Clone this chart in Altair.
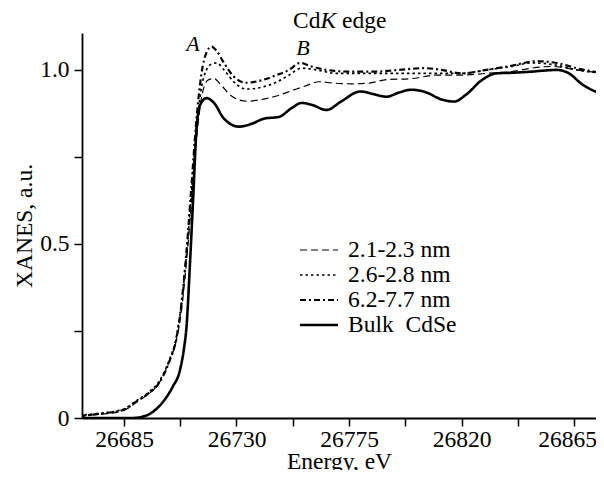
import altair as alt
import pandas as pd

FONT = "Liberation Serif"

series_names = ["2.1-2.3 nm", "2.6-2.8 nm", "6.2-7.7 nm", "Bulk\u00a0 CdSe"]

# 2.1-2.3 nm (dashed)
E_dash = [26667, 26675, 26685, 26690, 26695, 26699, 26703, 26706, 26708, 26710, 26712, 26714, 26716,
          26718.5, 26721, 26724, 26728, 26734, 26740, 26746, 26752, 26758, 26763, 26769, 26776, 26783,
          26790, 26800, 26810, 26820, 26830, 26840, 26848, 26856, 26866, 26877]
y_dash = [0.005, 0.01, 0.022, 0.045, 0.07, 0.10, 0.16, 0.225, 0.31, 0.45, 0.62, 0.80, 0.92,
          0.97, 0.975, 0.955, 0.925, 0.91, 0.915, 0.925, 0.94, 0.955, 0.966, 0.962, 0.96, 0.962,
          0.972, 0.975, 0.985, 0.985, 0.99, 0.995, 1.005, 1.01, 1.0, 0.99]

# 2.6-2.8 nm (dotted)
E_dot = [26667, 26675, 26685, 26690, 26695, 26699, 26703, 26706, 26708, 26710, 26712, 26714, 26716,
         26718, 26720, 26722, 26725, 26729, 26734, 26740, 26746, 26751, 26756, 26762, 26770, 26780,
         26790, 26800, 26810, 26820, 26830, 26840, 26848, 26857, 26866, 26877]
y_dot = [0.008, 0.013, 0.026, 0.05, 0.075, 0.105, 0.165, 0.235, 0.33, 0.47, 0.65, 0.83, 0.95,
         1.0, 1.017, 1.02, 1.0, 0.965, 0.945, 0.95, 0.965, 0.985, 1.005, 1.0, 0.99, 0.99,
         0.99, 0.99, 0.99, 0.99, 1.0, 1.01, 1.02, 1.015, 1.0, 0.99]

# 6.2-7.7 nm (dash-dot)
E_dd = [26667, 26675, 26685, 26690, 26695, 26699, 26703, 26706, 26708, 26710, 26712, 26714, 26716,
        26718, 26720, 26722, 26725, 26729, 26734, 26740, 26746, 26751, 26755.5, 26760, 26766, 26775,
        26785, 26795, 26805, 26812, 26820, 26830, 26840, 26850, 26858, 26866, 26877]
y_dd = [0.006, 0.012, 0.024, 0.048, 0.072, 0.10, 0.16, 0.23, 0.33, 0.48, 0.67, 0.86, 0.99,
        1.05, 1.067, 1.055, 1.02, 0.98, 0.963, 0.97, 0.985, 1.0, 1.02, 1.01, 1.0, 0.995,
        0.995, 1.0, 1.005, 1.0, 0.99, 1.0, 1.012, 1.025, 1.02, 1.005, 0.99]

# Bulk CdSe (solid)
E_bulk = [26667, 26680, 26688, 26692, 26696, 26699.5, 26702, 26704.5, 26707.4, 26709, 26710, 26711.4,
          26712.7, 26714, 26715.5, 26718, 26721, 26725, 26731, 26736, 26741, 26747, 26752, 26756,
          26760, 26766, 26772, 26779.5, 26785, 26790, 26795, 26800, 26806, 26812, 26817, 26822,
          26828, 26834, 26841, 26848, 26853, 26858, 26863, 26868, 26877]
y_bulk = [0.0, 0.0, 0.0, 0.003, 0.015, 0.037, 0.06, 0.09, 0.138, 0.2, 0.262, 0.445,
          0.636, 0.83, 0.9, 0.919, 0.905, 0.86, 0.837, 0.845, 0.86, 0.865, 0.89, 0.905,
          0.9, 0.885, 0.91, 0.938, 0.93, 0.923, 0.935, 0.943, 0.935, 0.915, 0.909, 0.93,
          0.97, 0.99, 0.992, 0.995, 0.998, 1.0, 0.99, 0.96, 0.928]

x_ticks = [26685, 26707.5, 26730, 26752.5, 26775, 26797.5, 26820, 26842.5, 26865]
y_ticks = [0, 0.25, 0.5, 0.75, 1.0]

ann_labels = ["A", "B"]
ann_E = [26712.6, 26756.6]
ann_y = [1.055, 1.042]

title_parts = ["Cd", "K", "edge"]

rows = []
for name, E, Y in zip(series_names, [E_dash, E_dot, E_dd, E_bulk], [y_dash, y_dot, y_dd, y_bulk]):
    for e, v in zip(E, Y):
        rows.append({"series": name, "E": e, "v": v})
df = pd.DataFrame(rows)

X_DOMAIN = [26668.2, 26873.8]
Y_DOMAIN = [0, 1.106]

dash_scale = alt.Scale(domain=series_names, range=[[7, 4], [2.5, 3], [6, 3, 2, 3], [1, 0]])
width_scale = alt.Scale(domain=series_names, range=[1.2, 2.6, 1.2, 1.15])

x_enc = alt.X("E:Q",
              scale=alt.Scale(domain=X_DOMAIN, nice=False, zero=False),
              axis=alt.Axis(values=x_ticks,
                            labelExpr="abs((datum.value - 26685) % 45) < 0.01 ? '' + datum.value : ''",
                            labelOffset={"condition": {"test": "datum.value > 26860", "value": -7},
                                         "value": 0},
                            title="Energy, eV", titleY=50, titleBaseline="alphabetic",
                            labelPadding=1))
y_enc = alt.Y("v:Q",
              scale=alt.Scale(domain=Y_DOMAIN, nice=False),
              axis=alt.Axis(values=y_ticks,
                            labelExpr="datum.value == 0 ? '0' : datum.value == 0.5 ? '0.5' : datum.value == 1 ? '1.0' : ''",
                            title="XANES, a.u.", titleX=-51, titleY=192.5, titleBaseline="alphabetic",
                            titleAlign="center", labelPadding=5))

lines = alt.Chart(df).mark_line(clip=True, color="black", interpolate="monotone").encode(
    x=x_enc,
    y=y_enc,
    strokeDash=alt.StrokeDash("series:N", scale=dash_scale, legend=None),
    strokeWidth=alt.StrokeWidth("series:N", scale=width_scale, legend=None),
)

# legend drawn as its own small layer, rows placed by a point scale
leg_df = pd.DataFrame({"series": series_names})
leg_y = alt.Y("series:N", scale=alt.Scale(type="point", domain=series_names, range=[217, 292], padding=0),
              axis=None)
leg_rules = alt.Chart(leg_df).mark_rule(color="black").encode(
    x=alt.value(218), x2=alt.value(256), y=leg_y,
    strokeDash=alt.StrokeDash("series:N", scale=dash_scale, legend=None),
    strokeWidth=alt.StrokeWidth("series:N", scale=width_scale, legend=None),
)
leg_text = alt.Chart(leg_df).mark_text(font=FONT, fontSize=23.5, align="left", baseline="middle",
                                       color="black").encode(
    x=alt.value(266), y=leg_y, text="series:N")

ann_df = pd.DataFrame({"label": ann_labels, "E": ann_E, "v": ann_y})
ann = alt.Chart(ann_df).mark_text(font=FONT, fontSize=22, fontStyle="italic", align="center",
                                  baseline="alphabetic", color="black").encode(
    x="E:Q",
    y=alt.Y("v:Q", scale=alt.Scale(domain=Y_DOMAIN, nice=False), axis=None),
    text="label:N")

def title_piece(txt, xpos, italic=False):
    return alt.Chart(pd.DataFrame({"t": [txt]})).mark_text(
        font=FONT, fontSize=23.5, fontStyle="italic" if italic else "normal",
        align="left", baseline="alphabetic", color="black").encode(
        x=alt.value(xpos), y=alt.value(-5), text="t:N")

t1 = title_piece(title_parts[0], 211)
t2 = title_piece(title_parts[1], 238.4, italic=True)
t3 = title_piece(title_parts[2], 260)

chart = alt.layer(lines, ann, leg_rules, leg_text, t1, t2, t3).resolve_scale(
    y="independent"
).properties(
    width=514, height=385,
    autosize=alt.AutoSizeParams(type="none"),
    padding={"left": 74, "top": 25, "right": 0, "bottom": 52},
).configure_view(stroke=None).configure_axis(
    grid=False,
    domainColor="black", domainWidth=1.8,
    tickColor="black", tickWidth=1.5, tickSize=8,
    labelFont=FONT, labelFontSize=23.5, labelColor="black",
    labelFlush=False, labelOverlap=False,
    titleFont=FONT, titleFontSize=23.5, titleFontWeight="normal", titleColor="black",
)

chart.save("out.html", embed_options={"renderer": "svg", "actions": False})
